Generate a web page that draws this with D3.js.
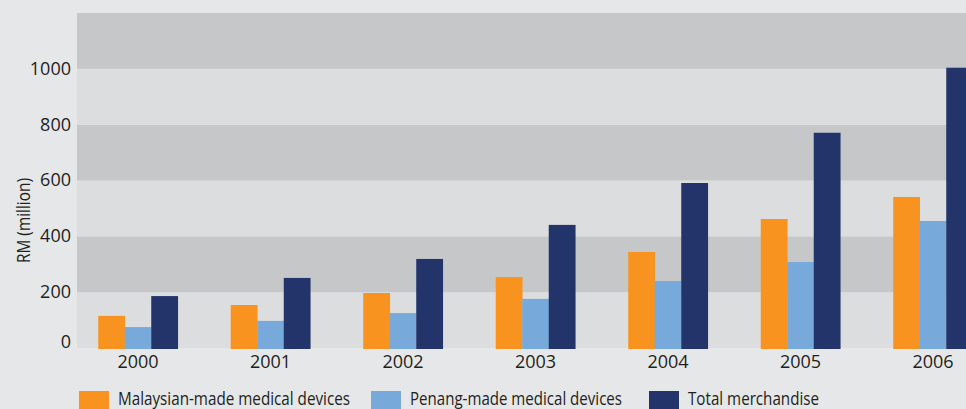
<!DOCTYPE html>
<html>
<head>
<meta charset="utf-8">
<script src="https://cdn.jsdelivr.net/npm/d3@7"></script>
<style>
  html, body { margin: 0; padding: 0; background: #e6e7e9; }
  svg { display: block; }
  .tick text { font-family: "Open Sans", sans-serif; font-size: 18px; fill: #231f20; }
  .legend text { font-family: "Open Sans", sans-serif; font-size: 18px; fill: #231f20; }
</style>
</head>
<body>
<div id="chart"></div>
<script>
// data
var years = ["2000", "2001", "2002", "2003", "2004", "2005", "2006"];
var seriesNames = ["Malaysian-made medical devices", "Penang-made medical devices", "Total merchandise"];
var malaysian = [115, 154, 197, 254, 344, 462, 541];
var penang = [75, 97, 125, 176, 240, 308, 455];
var total = [186, 251, 319, 441, 591, 771, 1004];
var yTicks = [0, 200, 400, 600, 800, 1000];
var colors = ["#f7931e", "#77aadb", "#22346a"];

var svgWidth = 966, svgHeight = 409;
var margin = { top: 13, right: 0, bottom: 61, left: 77 };
var height = svgHeight - margin.top - margin.bottom;

var svg = d3.select("#chart").append("svg")
    .attr("width", svgWidth)
    .attr("height", svgHeight);

svg.append("rect").attr("width", svgWidth).attr("height", svgHeight).attr("fill", "#e6e7e9");

var y = d3.scaleLinear().domain([0, 1200]).range([margin.top + height, margin.top]);
var x = d3.scaleBand().domain(years).range([71.75, 999.25]).paddingInner(0.4).paddingOuter(0.2);
var x1 = d3.scaleBand().domain(d3.range(3)).range([0, x.bandwidth()]);

var rows = years.map(function (yr, i) {
    return { year: yr, values: [malaysian[i], penang[i], total[i]] };
});

// alternating bands
var bandEdges = d3.range(0, 1200, 200);
svg.append("g").selectAll("rect")
    .data(bandEdges)
    .join("rect")
    .attr("x", margin.left)
    .attr("width", svgWidth - margin.left)
    .attr("y", function (d) { return y(d + 200); })
    .attr("height", function (d) { return y(d) - y(d + 200); })
    .attr("fill", function (d) { return (d / 200) % 2 === 0 ? "#dcdddf" : "#c6c7c9"; });

// bars
var groups = svg.append("g").selectAll("g")
    .data(rows)
    .join("g")
    .attr("transform", function (d) { return "translate(" + x(d.year) + ",0)"; });
groups.selectAll("rect")
    .data(function (d) { return d.values.map(function (v, k) { return { k: k, v: v }; }); })
    .join("rect")
    .attr("x", function (d) { return x1(d.k); })
    .attr("width", x1.bandwidth() + 0.3)
    .attr("y", function (d) { return y(d.v); })
    .attr("height", function (d) { return y(0) - y(d.v) + 1; })
    .attr("fill", function (d) { return colors[d.k]; });

// y axis
var yAxis = svg.append("g")
    .attr("transform", "translate(" + (margin.left - 6) + ",0)")
    .call(d3.axisLeft(y).tickValues(yTicks).tickSize(0).tickPadding(0).tickFormat(d3.format("d")));
yAxis.select(".domain").remove();
yAxis.selectAll(".tick text")
    .attr("dy", function (d) { return d === 0 ? "-0.05em" : "0.3em"; });

// x axis
var xAxis = svg.append("g")
    .attr("transform", "translate(0," + (margin.top + height) + ")")
    .call(d3.axisBottom(x).tickSize(0).tickPadding(7));
xAxis.select(".domain").remove();

// y title
svg.append("text")
    .attr("transform", "translate(29.5," + 220.5 + ") rotate(-90)")
    .attr("text-anchor", "middle")
    .attr("font-family", "'Open Sans', sans-serif")
    .attr("font-size", 18)
    .attr("textLength", 85)
    .attr("lengthAdjust", "spacingAndGlyphs")
    .attr("fill", "#231f20")
    .text("RM (million)");

// legend
var legendX = [79, 371, 649];
var legendTextW = [232, 212, 131];
var legend = svg.append("g").attr("class", "legend")
    .selectAll("g")
    .data(seriesNames)
    .join("g")
    .attr("transform", function (d, i) { return "translate(" + legendX[i] + ",391)"; });
legend.append("rect")
    .attr("width", 30)
    .attr("height", 24)
    .attr("fill", function (d, i) { return colors[i]; });
legend.append("text")
    .attr("x", 39)
    .attr("y", 14)
    .attr("textLength", function (d, i) { return legendTextW[i]; })
    .attr("lengthAdjust", "spacingAndGlyphs")
    .text(function (d) { return d; });
</script>
</body>
</html>
